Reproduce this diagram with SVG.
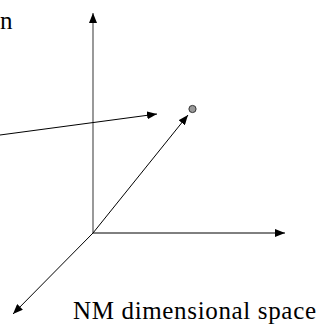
<svg xmlns="http://www.w3.org/2000/svg" width="321" height="325" viewBox="0 0 321 325">
<style>
.ln{stroke:#000;stroke-width:1;fill:none}
.gr{stroke:#808080;stroke-width:1.6;fill:none}
text{font-family:'Liberation Serif','Times New Roman',serif;font-size:25px;fill:#000}
</style>
<defs>
<marker id="ah" markerWidth="10" markerHeight="8" refX="10" refY="4" orient="auto" markerUnits="userSpaceOnUse">
<path d="M0,0 L10,4 L0,8 Z" fill="#000"/>
</marker>
</defs>
<rect width="321" height="325" fill="#fff"/>
<g id="connectors">
<line class="gr" x1="93" y1="233" x2="93" y2="13" marker-end="url(#ah)"/>
<line class="ln" x1="93" y1="233" x2="285" y2="233" marker-end="url(#ah)"/>
<line class="ln" x1="93" y1="233" x2="13" y2="314" marker-end="url(#ah)"/>
<line class="ln" x1="93" y1="233" x2="188" y2="115" marker-end="url(#ah)"/>
<line class="ln" x1="0" y1="135" x2="157" y2="114" marker-end="url(#ah)"/>
</g>
<g id="point">
<circle cx="192.5" cy="109" r="3.6" fill="#999" stroke="#333" stroke-width="1"/>
</g>
<g id="label-top">
<text x="0" y="29">n</text>
</g>
<g id="label-space">
<text x="73" y="319" textLength="243" lengthAdjust="spacing">NM dimensional space</text>
</g>
</svg>
